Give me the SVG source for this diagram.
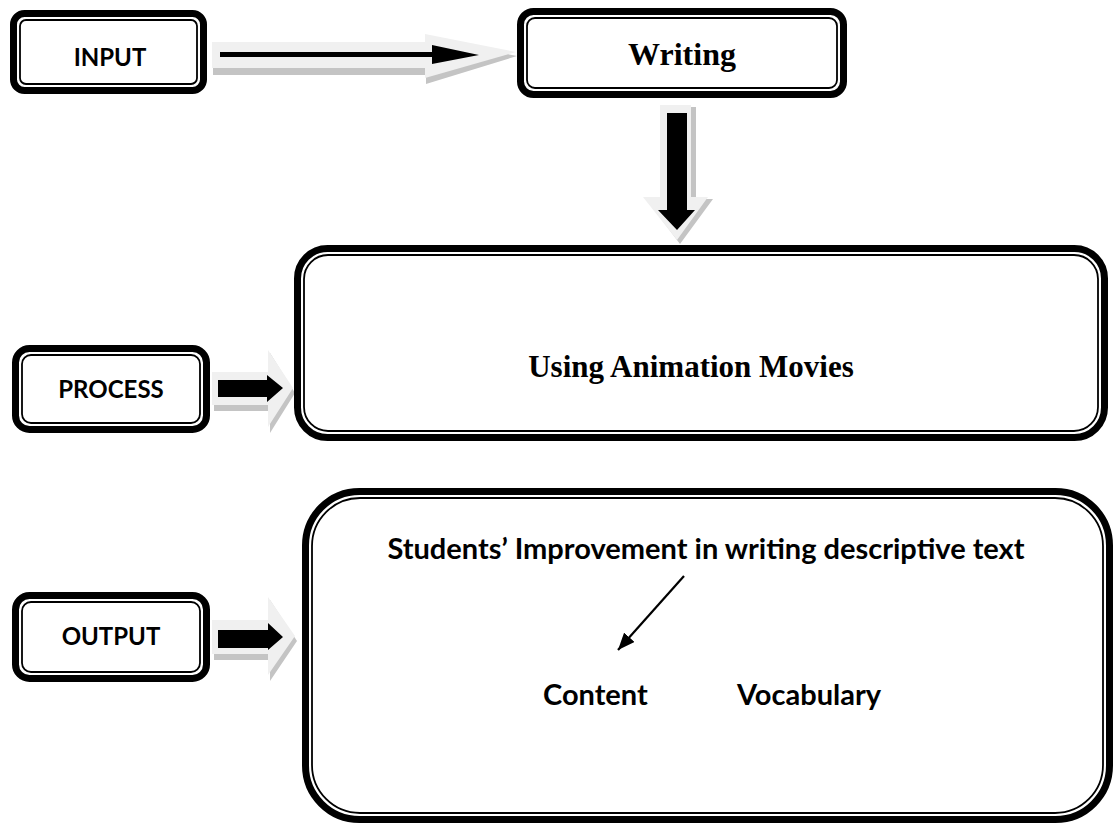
<svg xmlns="http://www.w3.org/2000/svg" width="1117" height="831" viewBox="0 0 1117 831">
<style>
.outer{fill:#fff;stroke:#000;stroke-width:7}
.inner{fill:none;stroke:#000;stroke-width:1.8}
.lbl{font-family:Lato,"Liberation Sans",sans-serif;font-weight:bold;font-size:24px;fill:#000;text-anchor:middle}
.ser{font-family:"Liberation Serif",serif;font-weight:bold;fill:#000;text-anchor:middle}
.cal{font-family:Lato,"Liberation Sans",sans-serif;font-weight:bold;font-size:29px;fill:#000}
.gshadow{fill:#c4c4c4}
.glight{fill:#f0f0f0}
.blk{fill:#000}
</style>
<defs>
<marker id="ah" markerUnits="userSpaceOnUse" markerWidth="18" markerHeight="14" refX="17" refY="7" orient="auto">
<path d="M0,0 L17,7 L0,14 z" fill="#000"/>
</marker>
</defs>
<rect width="1117" height="831" fill="#fff"/>

<g id="connectors">
  <g id="arrow-input">
    <polygon class="gshadow" transform="translate(1,4)" points="212,42 425,42 425,34 516,52 425,80 425,71 212,71"/>
    <polygon class="glight" points="212,42 425,42 425,34 516,52 425,78 425,68 212,68"/>
    <polygon class="blk" points="220,52 432,52 432,45 479,55 432,64 432,57 220,57"/>
  </g>
  <g id="arrow-down">
    <polygon class="gshadow" transform="translate(3,2)" points="660,105 693,105 693,197 710,197 677,242 643,197 660,197"/>
    <polygon class="glight" points="660,105 691,105 691,197 708,197 677,240 643,197 660,197"/>
    <polygon class="blk" points="667,113 687,113 687,210 695,210 677,230 658,210 667,210"/>
  </g>
  <g id="arrow-process">
    <polygon class="gshadow" transform="translate(2,3)" points="212,372 268,372 268,350 293,390 268,430 268,408 212,408"/>
    <polygon class="glight" points="212,372 268,372 268,350 293,388 268,427 268,405 212,405"/>
    <polygon class="blk" points="218,380 267,380 267,375 283,388 267,402 267,397 218,397"/>
  </g>
  <g id="arrow-output">
    <polygon class="gshadow" transform="translate(2,3)" points="212,620 268,620 268,597 295,638 268,678 268,657 212,657"/>
    <polygon class="glight" points="212,620 268,620 268,597 295,636 268,675 268,654 212,654"/>
    <polygon class="blk" points="218,630 268,630 268,623 283,637 268,650 268,648 218,648"/>
  </g>
</g>

<g id="input">
  <rect class="outer" x="13.5" y="13.5" width="190" height="77" rx="11"/>
  <rect class="inner" x="20" y="20" width="177" height="64" rx="6"/>
  <text class="lbl" x="110" y="66" font-size="25">INPUT</text>
</g>

<g id="writing">
  <rect class="outer" x="520.5" y="11.5" width="323" height="83" rx="13"/>
  <rect class="inner" x="527" y="18" width="310" height="70" rx="8"/>
  <text class="ser" x="682" y="65" font-size="32">Writing</text>
</g>

<g id="process">
  <rect class="outer" x="15.5" y="348.5" width="191" height="81" rx="14"/>
  <rect class="inner" x="22" y="355" width="178" height="68" rx="9"/>
  <text class="lbl" x="111" y="398">PROCESS</text>
</g>

<g id="using">
  <rect class="outer" x="297.5" y="248.5" width="807" height="189" rx="30"/>
  <rect class="inner" x="304" y="255" width="794" height="176" rx="24"/>
  <text class="ser" x="691" y="377" font-size="31">Using Animation Movies</text>
</g>

<g id="output">
  <rect class="outer" x="15.5" y="595.5" width="191" height="83" rx="14"/>
  <rect class="inner" x="22" y="602" width="178" height="70" rx="9"/>
  <text class="lbl" x="111" y="645">OUTPUT</text>
</g>

<g id="result">
  <rect class="outer" x="305.5" y="491.5" width="804" height="328" rx="54"/>
  <rect class="inner" x="312" y="498" width="791" height="315" rx="48"/>
  <text class="cal" x="706" y="559" text-anchor="middle">Students’ Improvement in writing descriptive text</text>
  <line x1="684" y1="576" x2="618" y2="650" stroke="#000" stroke-width="2.2" marker-end="url(#ah)"/>
  <text class="cal" x="543" y="705">Content</text>
  <text class="cal" x="737" y="705">Vocabulary</text>
</g>
</svg>
